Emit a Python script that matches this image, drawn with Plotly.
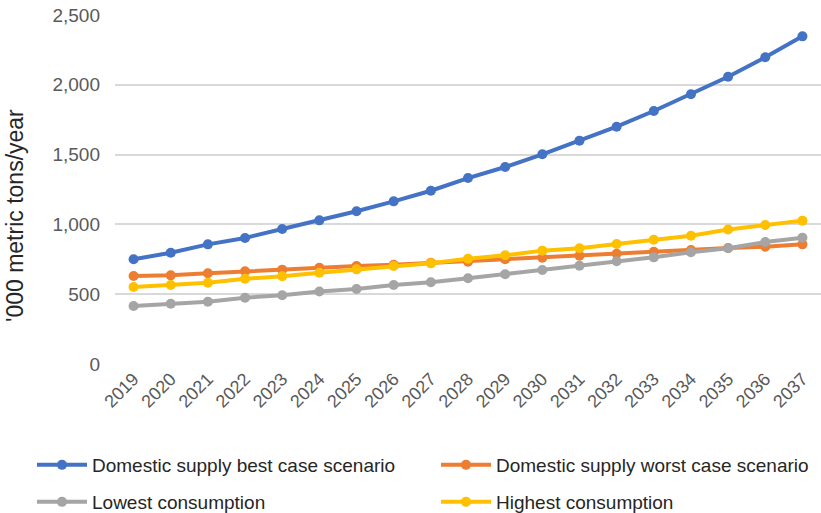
import plotly.graph_objects as go

years = [str(y) for y in range(2019, 2038)]
best_case = [750, 797, 857, 903, 967, 1029, 1094, 1165, 1241, 1332, 1411, 1502, 1600, 1700, 1812, 1932, 2058, 2197, 2347]
worst_case = [630, 635, 650, 664, 676, 690, 702, 711, 725, 733, 750, 761, 776, 790, 804, 817, 831, 840, 857]
lowest = [415, 432, 446, 475, 492, 519, 537, 566, 585, 614, 643, 673, 704, 736, 764, 800, 829, 874, 905]
highest = [552, 566, 582, 611, 628, 654, 678, 702, 721, 754, 779, 812, 829, 860, 890, 919, 964, 996, 1027]

names = ["Domestic supply best case scenario", "Domestic supply worst case scenario",
         "Lowest consumption", "Highest consumption"]
values = [best_case, worst_case, lowest, highest]
colors = ["#4472C4", "#ED7D31", "#A5A5A5", "#FFC000"]
legend_ids = ["legend", "legend2", "legend3", "legend4"]
# legend item origin (px from left) and vertical centre (px from top)
legend_pos = [(32, 465), (436, 465), (32, 502), (436, 502)]

FONT = "Liberation Sans, Arial, Helvetica, sans-serif"

L, R, T, B = 115, 0, 15, 149
W, H = 821, 513
PW, PH = W - L - R, H - T - B

fig = go.Figure()
for name, vals, color, leg in zip(names, values, colors, legend_ids):
    fig.add_trace(go.Scatter(
        x=years, y=vals, name=name, mode="lines+markers",
        line=dict(color=color, width=4),
        marker=dict(color=color, size=10),
        legend=leg,
    ))

layout_legends = {}
for leg, (px, py) in zip(legend_ids, legend_pos):
    layout_legends[leg] = dict(
        orientation="h", xref="container", yref="container",
        x=px / W, y=(H - py) / H, xanchor="left", yanchor="middle",
        font=dict(family=FONT, size=19, color="#262626"),
        itemwidth=50,
        bgcolor="rgba(0,0,0,0)", borderwidth=0,
        itemclick=False, itemdoubleclick=False,
    )

fig.update_layout(
    width=W, height=H,
    margin=dict(l=L, r=R, t=T, b=B, autoexpand=False),
    paper_bgcolor="white", plot_bgcolor="white",
    font=dict(family=FONT, color="#595959"),
    showlegend=True,
    xaxis=dict(
        type="category", tickangle=-45, showgrid=False, zeroline=False,
        showline=False, ticks="", tickfont=dict(size=18, color="#595959"),
        range=[-0.5, 18.5],
    ),
    yaxis=dict(
        range=[0, 2500], dtick=500, tickformat=",d",
        showgrid=True, gridcolor="#D9D9D9", gridwidth=2,
        zeroline=False, showline=False, ticks="",
        tickfont=dict(size=19, color="#595959"),
        ticklabelstandoff=14,
    ),
    annotations=[dict(
        text="'000 metric tons/year", textangle=-90,
        xref="paper", yref="paper",
        x=(15 - L) / PW, y=(364 - 216) / PH,
        xanchor="center", yanchor="middle", showarrow=False,
        font=dict(family=FONT, size=23, color="#262626"),
    )],
    **layout_legends,
)

fig.write_html("out.html")
